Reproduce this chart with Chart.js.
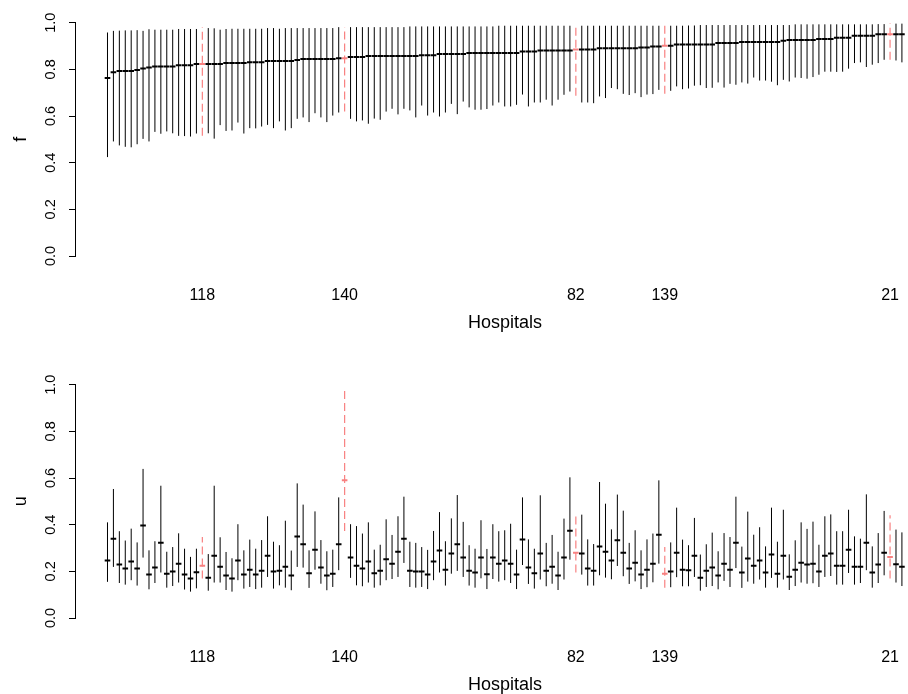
<!DOCTYPE html>
<html>
<head>
<meta charset="utf-8">
<script src="https://cdn.jsdelivr.net/npm/chart.js@4/dist/chart.umd.min.js"></script>
<style>
  body { margin: 0; background: #fff; }
  #wrap { position: relative; width: 908px; height: 694px; overflow: hidden; background: #fff; }
  canvas { position: absolute; left: 0; }
</style>
</head>
<body>
<div id="wrap">
  <!-- the plot region runs past the right edge of the picture, so the canvases are wider than the wrap -->
  <canvas id="fChart" width="941" height="334" style="top:0px"></canvas>
  <canvas id="uChart" width="941" height="334" style="top:362px"></canvas>
</div>
<script>
// hospitals sorted by f estimate, position 0..134 along the x axis
// only these five are labelled (and drawn dashed red)
const markedPos = [16, 40, 79, 94, 132];
const markedIds = ["118", "140", "82", "139", "21"];
const yTicks = [0, 0.2, 0.4, 0.6, 0.8, 1.0];

const fEst = [
  .763,.788,.793,.793,.793,.797,.804,.808,.812,.812,
  .812,.812,.818,.818,.818,.823,.823,.823,.823,.823,
  .827,.827,.827,.827,.831,.831,.831,.836,.836,.836,
  .836,.836,.840,.844,.844,.844,.844,.844,.844,.848,
  .848,.853,.853,.853,.857,.857,.857,.857,.857,.857,
  .857,.857,.857,.861,.861,.861,.866,.866,.866,.866,
  .866,.870,.870,.870,.870,.870,.870,.870,.870,.870,
  .877,.877,.877,.881,.881,.881,.881,.881,.881,.885,
  .885,.885,.885,.890,.890,.890,.890,.890,.890,.890,
  .894,.894,.898,.898,.901,.901,.907,.907,.907,.907,
  .907,.907,.907,.913,.913,.913,.913,.917,.917,.917,
  .917,.917,.917,.917,.923,.926,.926,.926,.926,.926,
  .930,.930,.930,.936,.936,.936,.944,.944,.944,.944,
  .951,.951,.951,.951,.951
];
const fLow = [
  .424,.491,.474,.468,.466,.479,.502,.491,.532,.524,
  .534,.526,.515,.514,.512,.525,.515,.526,.503,.561,
  .536,.538,.572,.525,.548,.547,.555,.562,.548,.577,
  .538,.548,.588,.594,.574,.612,.594,.574,.602,.615,
  .619,.588,.577,.581,.567,.589,.584,.619,.631,.607,
  .631,.624,.594,.645,.602,.615,.598,.615,.652,.608,
  .662,.637,.627,.627,.630,.645,.658,.641,.641,.648,
  .692,.641,.658,.658,.670,.645,.670,.691,.705,.687,
  .658,.658,.655,.684,.677,.720,.715,.695,.690,.698,
  .681,.692,.694,.712,.695,.708,.727,.715,.718,.730,
  .732,.720,.721,.744,.722,.738,.734,.744,.739,.765,
  .752,.752,.747,.732,.755,.748,.765,.763,.760,.767,
  .777,.790,.790,.789,.790,.803,.827,.830,.810,.820,
  .827,.841,.841,.838,.830
];
const fUp = [
  .958,.965,.966,.967,.967,.968,.965,.972,.970,.970,
  .970,.970,.973,.973,.973,.973,.981,.977,.976,.970,
  .973,.974,.974,.974,.974,.974,.974,.977,.977,.974,
  .977,.977,.977,.977,.977,.977,.977,.977,.977,.981,
  .981,.981,.981,.981,.981,.981,.981,.981,.981,.981,
  .981,.984,.984,.984,.984,.984,.984,.984,.984,.984,
  .984,.984,.984,.984,.984,.984,.987,.987,.987,.987,
  .987,.987,.987,.987,.987,.987,.987,.987,.987,.988,
  .987,.987,.987,.987,.987,.987,.987,.987,.987,.987,
  .987,.987,.987,.987,.992,.987,.987,.987,.988,.988,
  .990,.990,.990,.990,.990,.990,.990,.990,.990,.990,
  .990,.990,.990,.990,.990,.990,.993,.993,.993,.993,
  .993,.993,.993,.993,.993,.993,.993,.993,.993,.993,
  .994,.994,.998,.996,.996
];

const uEst = [
  .246,.340,.229,.212,.242,.212,.396,.186,.216,.323,
  .190,.199,.233,.186,.169,.196,.224,.173,.267,.220,
  .182,.169,.246,.186,.207,.186,.203,.267,.199,.203,
  .220,.182,.349,.316,.192,.293,.216,.182,.190,.316,
  .590,.259,.224,.212,.242,.192,.203,.252,.233,.284,
  .340,.203,.199,.199,.186,.242,.289,.207,.276,.316,
  .259,.203,.195,.259,.187,.259,.233,.246,.233,.186,
  .336,.216,.192,.276,.203,.220,.182,.259,.374,.280,
  .276,.212,.203,.306,.284,.246,.333,.280,.212,.237,
  .186,.207,.233,.357,.190,.199,.280,.207,.205,.267,
  .173,.203,.216,.182,.233,.207,.323,.195,.255,.224,
  .246,.195,.272,.190,.267,.177,.207,.237,.229,.233,
  .199,.267,.276,.224,.224,.293,.220,.220,.323,.195,
  .229,.280,.262,.230,.220
];
const uLow = [
  .155,.219,.150,.143,.162,.139,.259,.123,.150,.195,
  .130,.137,.152,.122,.113,.127,.169,.117,.152,.152,
  .120,.113,.162,.126,.133,.124,.130,.176,.126,.140,
  .130,.119,.219,.216,.129,.207,.147,.119,.133,.205,
  .373,.172,.140,.136,.152,.130,.140,.162,.167,.176,
  .236,.133,.130,.133,.124,.162,.195,.139,.190,.202,
  .176,.139,.130,.170,.124,.167,.156,.162,.150,.124,
  .227,.146,.126,.165,.136,.147,.120,.165,.250,.195,
  .186,.139,.139,.183,.173,.166,.223,.179,.146,.157,
  .124,.132,.153,.233,.130,.132,.175,.136,.136,.176,
  .117,.133,.137,.123,.159,.133,.214,.129,.156,.147,
  .165,.130,.172,.130,.165,.120,.137,.152,.147,.149,
  .133,.176,.180,.143,.143,.193,.143,.150,.205,.130,
  .150,.183,.169,.152,.137
];
const uUp = [
  .410,.553,.372,.332,.383,.324,.639,.290,.329,.567,
  .284,.304,.363,.297,.262,.297,.347,.274,.567,.346,
  .283,.256,.402,.290,.336,.297,.334,.436,.327,.312,
  .417,.289,.577,.486,.290,.457,.334,.286,.293,.517,
  .990,.402,.394,.362,.410,.293,.314,.423,.356,.436,
  .520,.327,.322,.304,.292,.373,.454,.329,.427,.527,
  .412,.312,.297,.419,.296,.402,.372,.376,.404,.293,
  .517,.337,.297,.526,.322,.356,.284,.426,.603,.436,
  .443,.337,.317,.583,.490,.380,.529,.460,.322,.376,
  .290,.337,.362,.590,.304,.324,.473,.336,.312,.429,
  .272,.316,.366,.286,.364,.347,.520,.306,.456,.357,
  .389,.307,.473,.327,.464,.273,.333,.410,.382,.413,
  .314,.436,.444,.372,.372,.464,.350,.340,.530,.307,
  .364,.459,.440,.379,.367
];

const RED = "rgb(248, 128, 128)";
Chart.defaults.font.family = "'Liberation Sans', Arial, Helvetica, sans-serif";
Chart.defaults.color = "#000";

// vertical segments lo..hi, broken apart by null points
function intervalPoints(low, up, marked) {
  const pts = [];
  low.forEach((lo, i) => {
    if (markedPos.includes(i) !== marked) return;
    pts.push({ x: i, y: lo }, { x: i, y: up[i] }, { x: i, y: null });
  });
  return pts;
}

function estPoints(est, marked) {
  const pts = [];
  est.forEach((v, i) => {
    if (markedPos.includes(i) !== marked) return;
    pts.push({ x: i, y: v });
  });
  return pts;
}

const drawPanel = (canvasId, est, low, up, yLabel) => {
  const ctx = document.getElementById(canvasId).getContext("2d");

  const data = {
    datasets: [
      {
        data: intervalPoints(low, up, false),
        borderColor: "#000",
        borderWidth: 1,
        pointRadius: 0,
        spanGaps: false
      },
      {
        data: intervalPoints(low, up, true),
        borderColor: RED,
        borderWidth: 1.2,
        borderDash: [8, 4],
        pointRadius: 0,
        spanGaps: false
      },
      {
        data: estPoints(est, false),
        showLine: false,
        pointStyle: "line",
        pointRadius: 2.8,
        pointBorderWidth: 2,
        pointBorderColor: "#000"
      },
      {
        data: estPoints(est, true),
        showLine: false,
        pointStyle: "line",
        pointRadius: 2.8,
        pointBorderWidth: 2,
        pointBorderColor: RED
      }
    ]
  };

  const config = {
    type: "line",
    data: data,
    options: {
      responsive: false,
      animation: false,
      devicePixelRatio: 1,
      layout: { padding: { top: 22.7, left: 0, right: 0, bottom: 0 } },
      plugins: { legend: { display: false }, tooltip: { enabled: false } },
      scales: {
        x: {
          type: "linear",
          min: -5.48,
          max: 139.58,
          // invisible tick marks push the labels down without eating plot width
          grid: { display: true, drawOnChartArea: false, drawTicks: true, tickLength: 30, color: "rgba(0,0,0,0)" },
          border: { display: false },
          afterBuildTicks: (s) => { s.ticks = markedPos.map(v => ({ value: v })); },
          afterFit: (s) => { s.height = 78; },
          ticks: {
            autoSkip: false,
            maxRotation: 0,
            padding: 0,
            font: { size: 16 },
            callback: (v) => markedIds[markedPos.indexOf(v)]
          },
          title: {
            display: true,
            text: "Hospitals",
            font: { size: 18 },
            padding: { top: 0, bottom: 0 }
          }
        },
        y: {
          min: 0,
          max: 1,
          afterBuildTicks: (s) => { s.ticks = yTicks.map(v => ({ value: v })); },
          afterFit: (s) => { s.width = 75; },
          grid: { drawOnChartArea: false, drawTicks: true, tickLength: 6, color: "#000" },
          border: { display: true, color: "#000", width: 1 },
          ticks: {
            autoSkip: false,
            minRotation: 90,
            maxRotation: 90,
            crossAlign: "center",
            padding: 8,
            font: { size: 14.5 },
            callback: (v) => v.toFixed(1)
          },
          title: {
            display: true,
            text: yLabel,
            font: { size: 18 },
            padding: { top: 10.5, bottom: 0 }
          }
        }
      }
    }
  };

  return new Chart(ctx, config);
};

drawPanel("fChart", fEst, fLow, fUp, "f");
drawPanel("uChart", uEst, uLow, uUp, "u");
</script>
</body>
</html>
